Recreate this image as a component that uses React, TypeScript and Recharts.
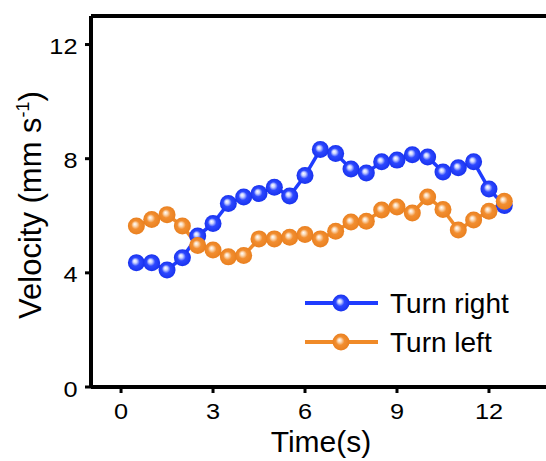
import React from "react";
import { LineChart, Line, XAxis, YAxis, ReferenceLine, Label } from "recharts";

const times = [0.5, 1, 1.5, 2, 2.5, 3, 3.5, 4, 4.5, 5, 5.5, 6, 6.5, 7, 7.5, 8, 8.5, 9, 9.5, 10, 10.5, 11, 11.5, 12, 12.5];
const turnRight = [4.35, 4.35, 4.1, 4.53, 5.29, 5.73, 6.43, 6.66, 6.78, 7.0, 6.69, 7.41, 8.32, 8.18, 7.64, 7.5, 7.89, 7.95, 8.14, 8.06, 7.53, 7.68, 7.89, 6.94, 6.36];
const turnLeft = [5.64, 5.87, 6.04, 5.64, 4.96, 4.8, 4.56, 4.61, 5.19, 5.19, 5.25, 5.34, 5.19, 5.46, 5.78, 5.81, 6.2, 6.31, 6.1, 6.66, 6.22, 5.5, 5.85, 6.16, 6.51];
const xTicks = [0, 3, 6, 9, 12];
const yTicks = [0, 4, 8, 12];
const seriesNames = ["Turn right", "Turn left"];

const data = times.map((t, i) => ({ t, right: turnRight[i], left: turnLeft[i] }));

const BLUE = "#1f3cff";
const ORANGE = "#f08a28";
const FONT = "'Liberation Sans', Arial, sans-serif";

const Ball = (fillId: string) => (props: any) => {
  const { cx, cy, index } = props;
  if (cx == null || cy == null) return <g key={index} />;
  return <circle key={`${fillId}-${index}`} cx={cx} cy={cy} r={8.5} fill={`url(#${fillId})`} />;
};

const XTick = (props: any) => {
  const { x, y, payload } = props;
  return (
    <text
      x={0}
      y={0}
      transform={`translate(${x},${y + 24}) scale(1.15,1)`}
      textAnchor="middle"
      fontSize={22}
      fontFamily={FONT}
      fill="#000"
    >
      {payload.value}
    </text>
  );
};

const YTick = (props: any) => {
  const { x, y, payload } = props;
  return (
    <text
      x={0}
      y={0}
      transform={`translate(${x + 0.5},${y + 9.5}) scale(1.15,1)`}
      textAnchor="end"
      fontSize={22}
      fontFamily={FONT}
      fill="#000"
    >
      {payload.value}
    </text>
  );
};

const LegendBox = () => {
  const items = [
    { name: seriesNames[0], color: BLUE, grad: "gBlue" },
    { name: seriesNames[1], color: ORANGE, grad: "gOrange" },
  ];
  return (
    <div style={{ position: "absolute", left: 305, top: 283.5, fontFamily: FONT }}>
      {items.map((it) => (
        <div key={it.name} style={{ display: "flex", alignItems: "center", height: 39 }}>
          <svg width={73} height={20} style={{ display: "block" }}>
            <line x1={0} y1={10} x2={73} y2={10} stroke={it.color} strokeWidth={4} />
            <circle cx={36} cy={10} r={8.5} fill={`url(#${it.grad})`} />
          </svg>
          <span style={{ marginLeft: 12, fontSize: 28, color: "#000", lineHeight: "39px", whiteSpace: "nowrap" }}>{it.name}</span>
        </div>
      ))}
    </div>
  );
};

const XLabel = () => (
  <text x={321} y={452} textAnchor="middle" fontSize={30} fontFamily={FONT} fill="#000">
    Time(s)
  </text>
);

const YLabel = () => (
  <text
    x={41}
    y={205}
    transform="rotate(-90, 41, 205)"
    textAnchor="middle"
    fontSize={31}
    fontFamily={FONT}
    fill="#000"
  >
    Velocity (mm s
    <tspan dy={-12} fontSize={18}>-1</tspan>
    <tspan dy={12}>)</tspan>
  </text>
);

export default function App() {
  return (
    <div style={{ position: "absolute", left: 0, top: 0, width: 546, height: 461, background: "#fff", overflow: "hidden" }}>
      <svg width={0} height={0} style={{ position: "absolute" }}>
        <defs>
          <radialGradient id="gBlue" cx="50%" cy="50%" r="50%" fx="40%" fy="38%">
            <stop offset="0%" stopColor="#ffffff" />
            <stop offset="22%" stopColor="#c9d1ff" />
            <stop offset="50%" stopColor="#2d48ff" />
            <stop offset="100%" stopColor="#1832ee" />
          </radialGradient>
          <radialGradient id="gOrange" cx="50%" cy="50%" r="50%" fx="40%" fy="38%">
            <stop offset="0%" stopColor="#ffffff" />
            <stop offset="22%" stopColor="#fbd9b6" />
            <stop offset="50%" stopColor="#f28e30" />
            <stop offset="100%" stopColor="#e98020" />
          </radialGradient>
        </defs>
      </svg>
      <LineChart width={546} height={461} data={data} margin={{ top: 16, right: 0, bottom: 0, left: 0 }}>
        <XAxis
          dataKey="t"
          type="number"
          domain={[-0.98, 13.86]}
          ticks={xTicks}
          allowDataOverflow
          height={74}
          axisLine={{ stroke: "#000", strokeWidth: 4 }}
          tickLine={{ stroke: "#000", strokeWidth: 3 }}
          tickSize={6}
          tickMargin={2}
          tick={<XTick />}
        >
          <Label content={<XLabel />} />
        </XAxis>
        <YAxis
          type="number"
          domain={[0, 13]}
          ticks={yTicks}
          allowDataOverflow
          width={91}
          axisLine={{ stroke: "#000", strokeWidth: 4 }}
          tickLine={{ stroke: "#000", strokeWidth: 3 }}
          tickSize={6}
          tickMargin={8}
          tick={<YTick />}
        >
          <Label content={<YLabel />} />
        </YAxis>
        <ReferenceLine y={13} stroke="#000" strokeWidth={4} />
        <Line
          dataKey="right"
          name={seriesNames[0]}
          stroke={BLUE}
          strokeWidth={3.5}
          dot={Ball("gBlue")}
          activeDot={false}
          isAnimationActive={false}
        />
        <Line
          dataKey="left"
          name={seriesNames[1]}
          stroke={ORANGE}
          strokeWidth={3.5}
          dot={Ball("gOrange")}
          activeDot={false}
          isAnimationActive={false}
        />
      </LineChart>
      <LegendBox />
    </div>
  );
}
